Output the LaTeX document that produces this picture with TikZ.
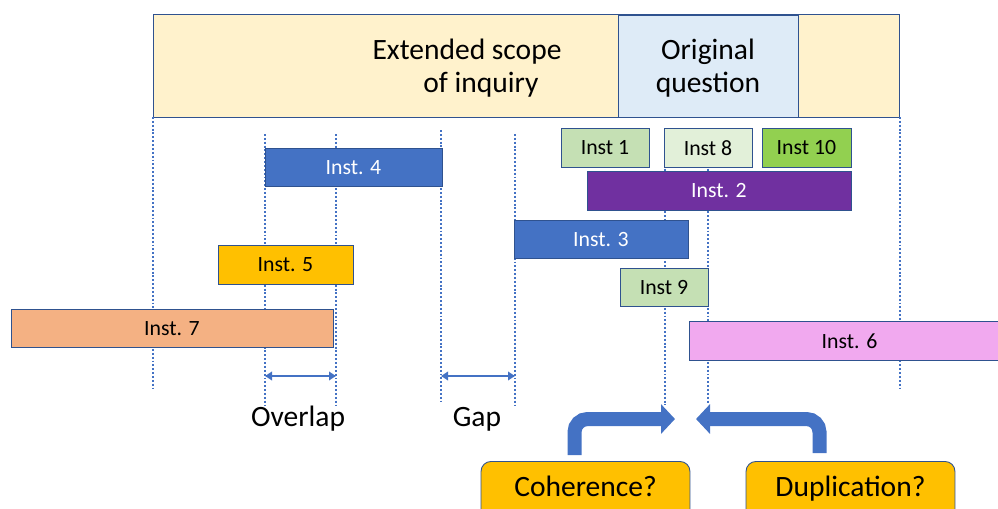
\documentclass[tikz,border=0pt]{standalone}
\usepackage{fontspec}
\setmainfont{Carlito}
\usetikzlibrary{arrows.meta}

\definecolor{edge}{HTML}{2F528F}
\definecolor{accent}{HTML}{4472C4}
\definecolor{scopefill}{HTML}{FFF2CC}
\definecolor{origfill}{HTML}{DEEBF7}
\definecolor{gold}{HTML}{FFC000}
\definecolor{purple}{HTML}{7030A0}
\definecolor{salmon}{HTML}{F4B183}
\definecolor{sage}{HTML}{C5E0B4}
\definecolor{mint}{HTML}{E2F0D9}
\definecolor{lime}{HTML}{92D050}
\definecolor{orchid}{HTML}{F1A9EF}

\newcommand{\bigfont}{\fontsize{16.8}{18.7}\selectfont}

\tikzset{
  inst/.style={draw=edge, line width=0.5pt, minimum height=0.77cm, inner sep=0pt,
    font=\fontsize{12.4}{14}\selectfont},
  guide/.style={draw=accent, line width=1.1pt, dash pattern=on 1.1pt off 1.1pt},
  span/.style={draw=accent, line width=1.1pt,
    {Triangle[length=1.4mm,width=1.7mm]}-{Triangle[length=1.4mm,width=1.7mm]}},
  ask/.style={draw=edge, line width=0.5pt, fill=gold, rounded corners=0.2cm,
    minimum width=4.18cm, inner ysep=0pt, text height=19.8pt, text depth=13.7pt,
    anchor=north, font=\bigfont},
  bent/.style={draw=accent, line width=0.28cm, rounded corners=0.26cm,
    -{Triangle[length=0.28cm 0 0, width=0.58cm 0 0]}},
}

\begin{document}
\begin{tikzpicture}[x=0.02cm, y=-0.02cm]
  \useasboundingbox (0,0) rectangle (998,508);

  % scope of the inquiry
  \node[draw=edge, line width=0.5pt, fill=scopefill, minimum width=14.94cm,
    minimum height=2.06cm, inner sep=0pt] (scope) at (526.5,65.5) {};
  \node[draw=edge, line width=0.5pt, fill=origfill, minimum width=3.6cm,
    minimum height=2.04cm, inner sep=0pt] (orig) at (708.3,66) {};
  \node[align=center, font=\bigfont] (origtxt) at (708,68.5) {Original\\question};
  \node[align=center, font=\bigfont] (scopetxt) at (467,68.5) {Extended scope\\\hspace*{0.56cm}of inquiry};

  % guide lines
  \foreach \gx/\gt/\gb in {153/117/388, 265/134/405, 336/134/405, 441/130/401,
                           515/134/405, 665/130/405, 708/130/403, 900/117/388}
    \draw[guide] (\gx,\gt) -- (\gx,\gb);

  % instruments
  \node[inst, fill=accent, text=white, minimum width=3.54cm] (i4) at (353.5,167.5) {Inst. 4};
  \node[inst, fill=gold, minimum width=2.70cm] (i5) at (285.5,265) {Inst. 5};
  \node[inst, fill=salmon, minimum width=6.44cm] (i7) at (172,328.5) {Inst. 7};
  \node[inst, fill=sage, minimum width=1.76cm] (i1) at (605,148) {Inst 1};
  \node[inst, fill=mint, minimum width=1.76cm] (i8) at (708,148) {Inst 8};
  \node[inst, fill=lime, minimum width=1.78cm] (i10) at (806.5,148) {Inst 10};
  \node[inst, fill=purple, text=white, minimum width=5.28cm] (i2) at (719,191) {Inst. 2};
  \node[inst, fill=accent, text=white, minimum width=3.48cm] (i3) at (601,239.5) {Inst. 3};
  \node[inst, fill=sage, minimum width=1.76cm] (i9) at (664,287.5) {Inst 9};
  \node[inst, fill=orchid, minimum width=6.42cm] (i6) at (849.5,341) {Inst. 6};

  % overlap and gap
  \coordinate (ovl) at (265,376);
  \coordinate (ovr) at (336,376);
  \coordinate (gpl) at (441,376);
  \coordinate (gpr) at (515,376);
  \draw[span] (ovl) -- (ovr);
  \draw[span] (gpl) -- (gpr);
  \node[anchor=base, font=\bigfont] (ovtxt) at (298,426) {Overlap};
  \node[anchor=base, font=\bigfont] (gptxt) at (477,426) {Gap};

  % questions
  \node[ask] (coh) at (585.5,461) {Coherence?};
  \node[ask] (dup) at (850.5,461) {Duplication?};
  \coordinate (cohtip) at (675,419);
  \coordinate (duptip) at (696,419);
  \draw[bent] ([xshift=-0.22cm,yshift=0.12cm]coh.north) |- (cohtip);
  \draw[bent] ([xshift=-0.62cm,yshift=0.16cm]dup.north) |- (duptip);
\end{tikzpicture}
\end{document}
